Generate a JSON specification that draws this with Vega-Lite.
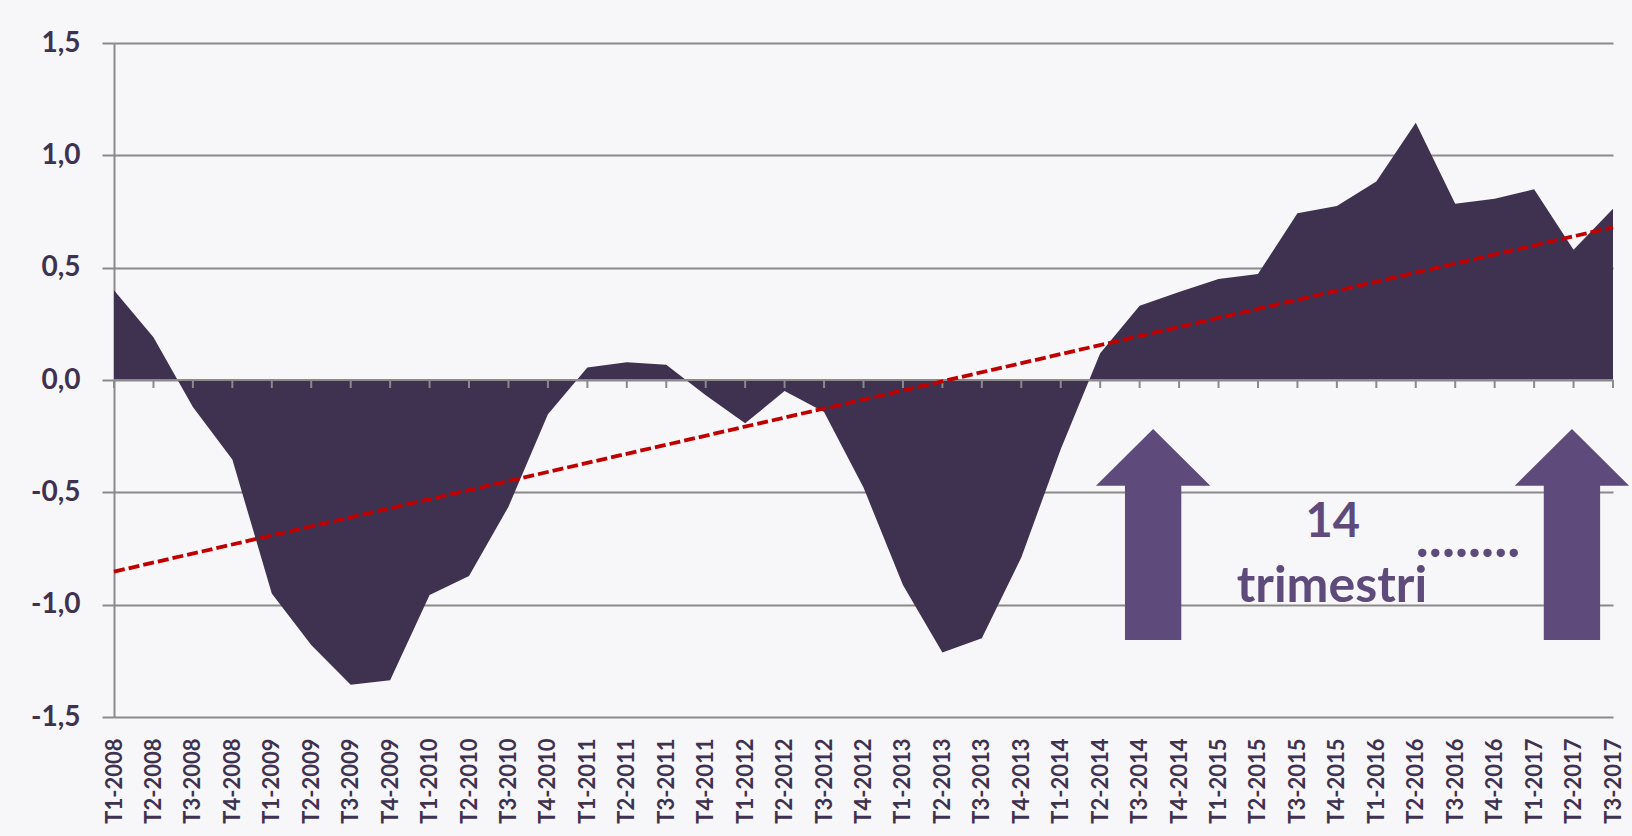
{
  "$schema": "https://vega.github.io/schema/vega-lite/v6.json",
  "width": 1499,
  "height": 674,
  "autosize": {"type": "none"},
  "padding": {"left": 114, "top": 43, "right": 19, "bottom": 119},
  "background": "#F7F7F9",
  "config": {"view": {"stroke": null}, "font": "Lato"},
  "datasets": {
    "series": [
      {"q": "T1-2008", "v": 0.40},
      {"q": "T2-2008", "v": 0.19},
      {"q": "T3-2008", "v": -0.12},
      {"q": "T4-2008", "v": -0.354},
      {"q": "T1-2009", "v": -0.95},
      {"q": "T2-2009", "v": -1.18},
      {"q": "T3-2009", "v": -1.357},
      {"q": "T4-2009", "v": -1.336},
      {"q": "T1-2010", "v": -0.957},
      {"q": "T2-2010", "v": -0.872},
      {"q": "T3-2010", "v": -0.564},
      {"q": "T4-2010", "v": -0.152},
      {"q": "T1-2011", "v": 0.056},
      {"q": "T2-2011", "v": 0.079},
      {"q": "T3-2011", "v": 0.068},
      {"q": "T4-2011", "v": -0.068},
      {"q": "T1-2012", "v": -0.193},
      {"q": "T2-2012", "v": -0.049},
      {"q": "T3-2012", "v": -0.142},
      {"q": "T4-2012", "v": -0.479},
      {"q": "T1-2013", "v": -0.912},
      {"q": "T2-2013", "v": -1.213},
      {"q": "T3-2013", "v": -1.15},
      {"q": "T4-2013", "v": -0.79},
      {"q": "T1-2014", "v": -0.308},
      {"q": "T2-2014", "v": 0.119},
      {"q": "T3-2014", "v": 0.33},
      {"q": "T4-2014", "v": 0.392},
      {"q": "T1-2015", "v": 0.45},
      {"q": "T2-2015", "v": 0.472},
      {"q": "T3-2015", "v": 0.742},
      {"q": "T4-2015", "v": 0.774},
      {"q": "T1-2016", "v": 0.883},
      {"q": "T2-2016", "v": 1.145},
      {"q": "T3-2016", "v": 0.785},
      {"q": "T4-2016", "v": 0.807},
      {"q": "T1-2017", "v": 0.849},
      {"q": "T2-2017", "v": 0.58},
      {"q": "T3-2017", "v": 0.762}
    ],
    "trend": [
      {"q": "T1-2008", "v": -0.853},
      {"q": "T3-2017", "v": 0.68}
    ],
    "arrowLeft": [
      {"q": "T3-2014", "v": -0.688}
    ],
    "arrowRight": [
      {"q": "T2-2017", "v": -0.688}
    ],
    "num": [
      {"q": "T4-2015", "v": -0.699, "label": "14"}
    ],
    "word": [
      {"q": "T4-2015", "v": -0.987, "label": "trimestri"}
    ],
    "dots": [
      {"q": "T2-2016", "v": -0.786, "label": "........"}
    ]
  },
  "layer": [
    {
      "data": {"name": "series"},
      "mark": {"type": "area", "color": "#3F3150", "opacity": 1},
      "encoding": {
        "x": {
          "field": "q",
          "type": "nominal",
          "sort": null,
          "scale": {
            "type": "point",
            "padding": 0,
            "domain": ["T1-2008","T2-2008","T3-2008","T4-2008","T1-2009","T2-2009","T3-2009","T4-2009","T1-2010","T2-2010","T3-2010","T4-2010","T1-2011","T2-2011","T3-2011","T4-2011","T1-2012","T2-2012","T3-2012","T4-2012","T1-2013","T2-2013","T3-2013","T4-2013","T1-2014","T2-2014","T3-2014","T4-2014","T1-2015","T2-2015","T3-2015","T4-2015","T1-2016","T2-2016","T3-2016","T4-2016","T1-2017","T2-2017","T3-2017"]
          },
          "axis": {
            "orient": "bottom",
            "title": null,
            "domain": false,
            "ticks": false,
            "tickSize": 0,
            "grid": false,
            "labelAngle": -90,
            "labelAlign": "right",
            "labelBaseline": "middle",
            "labelPadding": 21,
            "labelFont": "Lato",
            "labelFontWeight": "bold",
            "labelFontSize": 22,
            "labelColor": "#3F3150",
            "labelOverlap": false
          }
        },
        "y": {
          "field": "v",
          "type": "quantitative",
          "scale": {"domain": [-1.5, 1.5], "nice": false, "zero": false},
          "axis": {
            "title": null,
            "values": [-1.5, -1, -0.5, 0, 0.5, 1, 1.5],
            "labelExpr": "replace(replace(format(datum.value, '.1f'), '.', ','), '\u2212', '-')",
            "domain": true,
            "domainColor": "#8A8A8A",
            "domainWidth": 2,
            "grid": true,
            "gridColor": "#8A8A8A",
            "gridWidth": 2,
            "ticks": true,
            "tickSize": 12,
            "tickColor": "#8A8A8A",
            "tickWidth": 2,
            "labelPadding": 22,
            "labelFont": "Lato",
            "labelFontWeight": "bold",
            "labelFontSize": 28,
            "labelColor": "#3F3150"
          }
        },
        "y2": {"datum": 0}
      }
    },
    {
      "data": {"name": "series"},
      "mark": {"type": "rule", "color": "#8A8A8A", "strokeWidth": 2},
      "encoding": {"y": {"datum": 0}}
    },
    {
      "data": {"name": "series"},
      "mark": {"type": "tick", "orient": "vertical", "color": "#8A8A8A", "thickness": 2, "size": 8, "yOffset": 4, "opacity": 1},
      "encoding": {
        "x": {"field": "q", "type": "nominal", "sort": null},
        "y": {"datum": 0}
      }
    },
    {
      "data": {"name": "trend"},
      "mark": {"type": "line", "color": "#C00000", "strokeWidth": 3.8, "strokeDash": [11, 4]},
      "encoding": {
        "x": {"field": "q", "type": "nominal", "sort": null},
        "y": {"field": "v", "type": "quantitative"}
      }
    },
    {
      "data": {"name": "arrowLeft"},
      "mark": {
        "type": "point",
        "shape": "M 0 -1 L 0.542 -0.463 L 0.267 -0.463 L 0.267 1 L -0.267 1 L -0.267 -0.463 L -0.542 -0.463 Z",
        "filled": true,
        "size": 44521,
        "color": "#5F4B7B",
        "opacity": 1,
        "strokeWidth": 0,
        "xOffset": 13.5
      },
      "encoding": {
        "x": {"field": "q", "type": "nominal", "sort": null},
        "y": {"field": "v", "type": "quantitative"}
      }
    },
    {
      "data": {"name": "arrowRight"},
      "mark": {
        "type": "point",
        "shape": "M 0 -1 L 0.542 -0.463 L 0.267 -0.463 L 0.267 1 L -0.267 1 L -0.267 -0.463 L -0.542 -0.463 Z",
        "filled": true,
        "size": 44521,
        "color": "#5F4B7B",
        "opacity": 1,
        "strokeWidth": 0,
        "xOffset": -1.6
      },
      "encoding": {
        "x": {"field": "q", "type": "nominal", "sort": null},
        "y": {"field": "v", "type": "quantitative"}
      }
    },
    {
      "data": {"name": "num"},
      "mark": {"type": "text", "font": "Lato", "fontWeight": "bold", "fontSize": 47, "color": "#5F4B7B", "align": "center", "baseline": "alphabetic", "dx": -4},
      "encoding": {
        "x": {"field": "q", "type": "nominal", "sort": null},
        "y": {"field": "v", "type": "quantitative"},
        "text": {"field": "label"}
      }
    },
    {
      "data": {"name": "word"},
      "mark": {"type": "text", "font": "Lato", "fontWeight": "bold", "fontSize": 50, "color": "#5F4B7B", "align": "center", "baseline": "alphabetic", "dx": -5},
      "encoding": {
        "x": {"field": "q", "type": "nominal", "sort": null},
        "y": {"field": "v", "type": "quantitative"},
        "text": {"field": "label"}
      }
    },
    {
      "data": {"name": "dots"},
      "mark": {"type": "text", "font": "Lato", "fontWeight": "bold", "fontSize": 55, "color": "#5F4B7B", "align": "left", "baseline": "alphabetic", "dx": 0},
      "encoding": {
        "x": {"field": "q", "type": "nominal", "sort": null},
        "y": {"field": "v", "type": "quantitative"},
        "text": {"field": "label"}
      }
    }
  ]
}
